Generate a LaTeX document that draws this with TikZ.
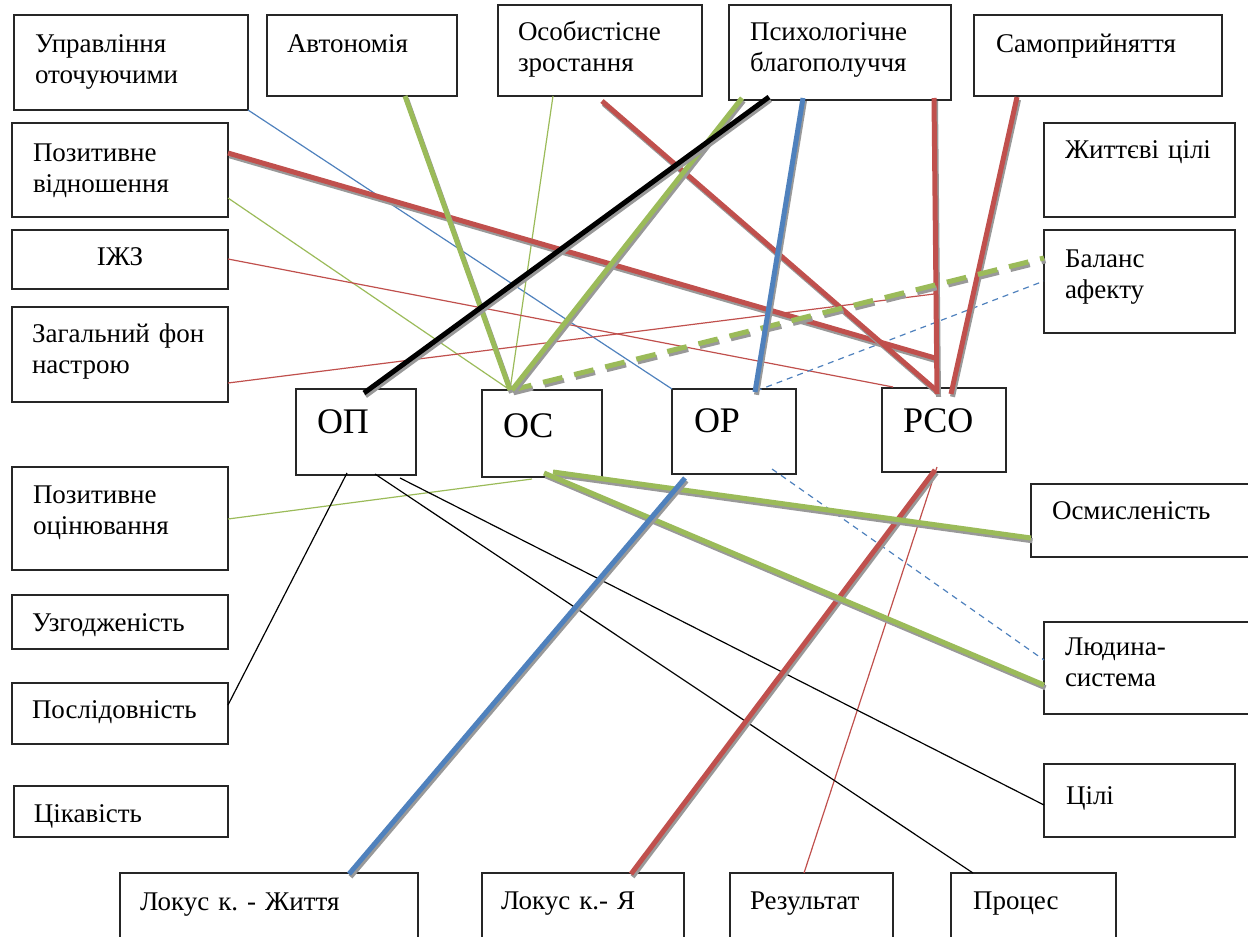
\documentclass[tikz,border=0pt]{standalone}
\usepackage{fontspec}
\setmainfont{Liberation Serif}
\usetikzlibrary{calc}
\definecolor{cred}{HTML}{C0504D}
\definecolor{cgreen}{HTML}{9BBB59}
\definecolor{cblue}{HTML}{4F81BD}
\tikzset{
  box/.style={draw=black!85, line width=1.2pt, fill=white, anchor=north west,
    inner ysep=0pt, outer sep=0pt, align=left, font=\fontsize{27}{31}\selectfont},
  big/.style={font=\fontsize{36}{40}\selectfont},
  thin/.style={line width=1.2pt},
  fat/.style={line width=5pt},
  shade/.style={draw=black!40, transform canvas={shift={(1.5pt,-2.8pt)}}},
  dots/.style={dash pattern=on 6pt off 5pt},
  longdash/.style={dash pattern=on 20pt off 12pt},
}
% thick line with a grey shadow under it
\newcommand\fatline[3]{%
  \draw[fat, #1, shade] #2 -- #3;
  \draw[fat, #1] #2 -- #3;}
\begin{document}
\begin{tikzpicture}[x=1pt, y=-1pt]
	\useasboundingbox (0,0) rectangle (1248,937);
	\clip (0,0) rectangle (1248,937);

	\node[box, inner xsep=21pt, text width=192pt, text height=37pt, text depth=58pt] (uo) at (14,15) {Управління\\оточуючими};
	\node[box, inner xsep=20pt, text width=150pt, text height=37pt, text depth=44pt] (avt) at (267,15) {Автономія};
	\node[box, inner xsep=20pt, text width=164pt, text height=35pt, text depth=56pt] (oz) at (498,5) {Особистісне\\зростання};
	\node[box, inner xsep=21pt, text width=180pt, text height=35pt, text depth=60pt] (pb) at (729,5) {Психологічне\\благополуччя};
	\node[box, inner xsep=22pt, text width=204pt, text height=37pt, text depth=44pt] (sp) at (974,15) {Самоприйняття};
	\node[box, inner xsep=21pt, text width=149pt, text height=35pt, text depth=59pt] (zhc) at (1044,123) {Життєві~цілі};
	\node[box, inner xsep=21pt, text width=149pt, text height=37pt, text depth=66pt] (ba) at (1044,230) {Баланс\\афекту};

	\node[box, inner xsep=21pt, text width=174pt, text height=38pt, text depth=56pt] (pv) at (12,123) {Позитивне\\відношення};
	\node[box, align=center, inner xsep=10pt, text width=196pt, text height=35pt, text depth=24pt] (izhz) at (12,230) {ІЖЗ};
	\node[box, inner xsep=20pt, text width=176pt, text height=35pt, text depth=60pt] (zfn) at (12,307) {Загальний~фон\\настрою};
	\node[box, inner xsep=21pt, text width=174pt, text height=36pt, text depth=67pt] (po) at (12,467) {Позитивне\\оцінювання};
	\node[box, inner xsep=20pt, text width=176pt, text height=36pt, text depth=18pt] (uzg) at (12,595) {Узгодженість};
	\node[box, inner xsep=20pt, text width=176pt, text height=35pt, text depth=26pt] (psl) at (12,683) {Послідовність};
	\node[box, inner xsep=20pt, text width=174pt, text height=36pt, text depth=15pt] (cik) at (14,786) {Цікавість};

	\node[box, inner xsep=20pt, text width=258pt, text height=37pt, text depth=63pt] (lzh) at (120,873) {Локус~к.~-~Життя};
	\node[box, inner xsep=19pt, text width=164pt, text height=36pt, text depth=64pt] (lya) at (482,873) {Локус~к.-~Я};
	\node[box, inner xsep=20pt, text width=123pt, text height=36pt, text depth=64pt] (rez) at (730,873) {Результат};
	\node[box, inner xsep=22pt, text width=121pt, text height=36pt, text depth=64pt] (proc) at (951,873) {Процес};

	\node[box, inner xsep=21pt, text width=187pt, text height=35pt, text depth=38pt] (osm) at (1031,484) {Осмисленість};
	\node[box, inner xsep=21pt, text width=174pt, text height=33pt, text depth=59pt] (lsys) at (1044,622) {Людина-\\система};
	\node[box, inner xsep=22pt, text width=147pt, text height=40pt, text depth=33pt] (cili) at (1044,764) {Цілі};

	\node[box, big, inner xsep=21pt, text width=78pt, text height=44pt, text depth=42pt] (op) at (296,389) {ОП};
	\node[box, big, inner xsep=21pt, text width=78pt, text height=47pt, text depth=40pt] (os) at (482,390) {ОС};
	\node[box, big, inner xsep=22pt, text width=80pt, text height=43pt, text depth=42pt] (or) at (672,389) {ОР};
	\node[box, big, inner xsep=21pt, text width=82pt, text height=44pt, text depth=40pt] (rso) at (882,388) {РСО};

	\coordinate (k1) at (934,294);
	\coordinate (k2) at (935,358);

	\draw[thin, cblue] (uo.south east) -- (or.north west);
	\draw[thin, cgreen] ($(oz.south west)+(55,0)$) -- ($(os.north west)+(28,0)$);
	\draw[thin, cgreen] ($(pv.north east)+(0,75)$) -- ($(os.north west)+(28,0)$);
	\draw[thin, cred] ($(izhz.north east)+(0,29)$) -- ($(rso.north west)+(11,-1)$);
	\draw[thin, cred] ($(zfn.north east)+(0,76)$) -- (k1);
	\draw[thin, cblue, dots] ($(or.north west)+(84,2)$) -- ($(ba.north west)+(0,51)$);
	\draw[thin, cgreen] ($(os.south west)+(50,2)$) -- ($(po.north east)+(0,52)$);
	\draw[thin, cblue, dots] ($(or.south west)+(100,-5)$) -- ($(lsys.north west)+(0,38)$);
	\draw[thin, cred] ($(rso.south west)+(55,-5)$) -- ($(rez.north west)+(74,0)$);
	\draw[thin] ($(op.south west)+(51,-2)$) -- ($(psl.north east)+(0,22)$);
	\draw[thin] ($(op.south west)+(79,-1)$) -- ($(proc.north west)+(22,0)$);
	\draw[thin] ($(op.south west)+(104,3)$) -- ($(cili.north west)+(0,41)$);

	\fatline{cred}{($(pv.north east)+(0,30)$)}{(k2)}
	\fatline{cred}{($(oz.south west)+(104,5)$)}{($(rso.north west)+(55,3)$)}
	\fatline{cred}{($(pb.south west)+(205,-2)$)}{($(rso.north west)+(55,6)$)}
	\fatline{cred}{($(sp.south west)+(43,1)$)}{($(rso.north west)+(69,6)$)}
	\fatline{cred}{($(rso.south west)+(53,-2)$)}{($(lya.north west)+(149,1)$)}
	\fatline{cgreen, longdash}{($(os.north west)+(30,0)$)}{($(ba.north west)+(0,28)$)}
	\fatline{cgreen}{($(avt.south west)+(138,0)$)}{($(os.north west)+(28,0)$)}
	\fatline{cgreen}{($(pb.south west)+(13,-2)$)}{($(os.north west)+(30,0)$)}
	\fatline{cgreen}{($(os.south west)+(71,-5)$)}{($(osm.north west)+(0,54)$)}
	\fatline{cgreen}{($(os.south west)+(62,-4)$)}{($(lsys.north west)+(0,63)$)}
	\fatline{cblue}{($(pb.south west)+(74,-2)$)}{($(or.north west)+(83,3)$)}
	\fatline{cblue}{($(or.south west)+(13,4)$)}{($(lzh.north west)+(229,1)$)}
	\fatline{black}{($(pb.south west)+(40,-3)$)}{($(op.north west)+(68,4)$)}
\end{tikzpicture}
\end{document}
